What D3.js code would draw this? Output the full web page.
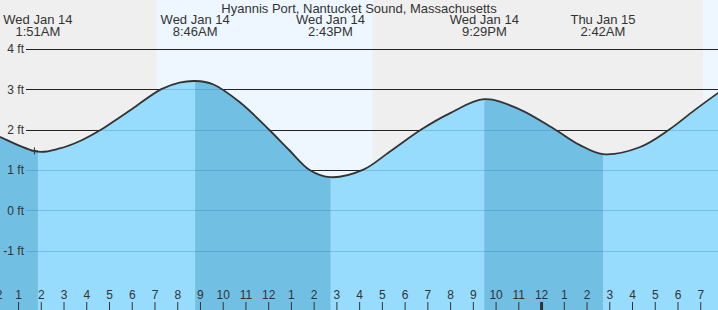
<!DOCTYPE html>
<html>
<head>
<meta charset="utf-8">
<script src="https://cdn.jsdelivr.net/npm/d3@7"></script>
<style>
html,body{margin:0;padding:0;background:#fff;}
svg{display:block;font-family:"Liberation Sans",Arial,sans-serif;}
</style>
</head>
<body>
<svg id="chart" width="718" height="310"></svg>
<script>
// ---- data (hours since midnight Wed Jan 14) ----
const title = "Hyannis Port, Nantucket Sound, Massachusetts";
const tideHours = [0, 0.17, 1.85, 2.81, 3.68, 4.64, 5.44, 6.02, 7.28, 8.08, 8.77, 9.55, 10.72, 12.01, 12.92, 13.80, 14.72, 16.14, 17.32, 18.71, 19.96, 21.48, 23.03, 24.59, 25.67, 26.70, 28.31, 29.62, 30.73, 31.8];
const tideFeet  = [1.86, 1.82, 1.45, 1.53, 1.71, 2.00, 2.30, 2.52, 3.00, 3.16, 3.20, 3.12, 2.68, 2.00, 1.48, 1.00, 0.82, 1.00, 1.45, 2.00, 2.40, 2.75, 2.50, 2.00, 1.62, 1.39, 1.56, 2.00, 2.48, 2.92];
const extremeHours = [1.85, 8.767, 14.717, 21.483, 26.7];
const extremeDates = ["Wed Jan 14", "Wed Jan 14", "Wed Jan 14", "Wed Jan 14", "Thu Jan 15"];
const extremeTimes = ["1:51AM", "8:46AM", "2:43PM", "9:29PM", "2:42AM"];
const fallStart = [-1, 8.767, 21.483];
const fallEnd   = [1.85, 14.717, 26.7];
const dayStart = [7.07, 31.1];
const dayEnd   = [16.57, 40];
const feetTicks = [4, 3, 2, 1, 0, -1];
const hourTicks = d3.range(0, 32);
const nowHour = 1.70, nowFeet = 1.47;

// ---- layout ----
const W = 718, H = 310;
const svg = d3.select("#chart");
const x = d3.scaleLinear().domain([0, 24]).range([-4.2, 541.56]);
const y = d3.scaleLinear().domain([0, 4]).range([210.3, 48.7]);

// backgrounds
svg.append("rect").attr("x", 0).attr("y", 0).attr("width", W).attr("height", H).attr("fill", "#efefef");
svg.selectAll(".day").data(dayStart).join("rect")
  .attr("x", d => x(d)).attr("y", 0)
  .attr("width", (d, i) => Math.min(x(dayEnd[i]), W) - x(d)).attr("height", H)
  .attr("fill", "#eef7ff");

// grid lines (beneath water)
svg.selectAll(".grid").data(feetTicks).join("line")
  .attr("x1", 26).attr("x2", W)
  .attr("y1", d => Math.round(y(d)) + 0.5).attr("y2", d => Math.round(y(d)) + 0.5)
  .attr("stroke", "#222").attr("stroke-width", 1);

const pts = tideHours.map((h, i) => [h, tideFeet[i]]);
const curve = d3.curveCatmullRom.alpha(0.5);
const area = d3.area().x(d => x(d[0])).y0(H).y1(d => y(d[1])).curve(curve);
const line = d3.line().x(d => x(d[0])).y(d => y(d[1])).curve(curve);

svg.append("clipPath").attr("id", "water").append("path").attr("d", area(pts));
svg.append("path").attr("d", area(pts)).attr("fill", "#97dcfd");
const wg = svg.append("g").attr("clip-path", "url(#water)");
wg.selectAll(".fall").data(fallStart).join("rect")
  .attr("x", d => x(d)).attr("y", 0)
  .attr("width", (d, i) => x(fallEnd[i]) - x(d)).attr("height", H)
  .attr("fill", "#72bfe4");
wg.selectAll(".grid2").data(feetTicks).join("line")
  .attr("x1", 26).attr("x2", W)
  .attr("y1", d => Math.round(y(d)) + 0.5).attr("y2", d => Math.round(y(d)) + 0.5)
  .attr("stroke", "rgba(40,120,170,0.3)").attr("stroke-width", 1);

svg.append("path").attr("d", line(pts)).attr("fill", "none")
  .attr("stroke", "#333").attr("stroke-width", 1.8);

// y labels
svg.selectAll(".ylab").data(feetTicks).join("text")
  .attr("x", 24).attr("y", d => y(d) + 4.5)
  .attr("text-anchor", "end").attr("font-size", 12).attr("fill", "#333")
  .text(d => d + " ft");

// bottom hour ticks
const fmtHour = h => { const v = h % 12; return v === 0 ? "12" : String(v); };
svg.selectAll(".tick").data(hourTicks).join("line")
  .attr("x1", d => x(d)).attr("x2", d => x(d))
  .attr("y1", 302).attr("y2", H)
  .attr("stroke", "#333").attr("stroke-width", d => d % 24 === 0 ? 3 : 1);
svg.selectAll(".hlab").data(hourTicks).join("text")
  .attr("x", d => x(d)).attr("y", 299)
  .attr("text-anchor", "middle").attr("font-size", 12).attr("fill", "#333")
  .text(fmtHour);

// now marker
svg.append("path")
  .attr("d", `M${x(nowHour) - 3.5},${y(nowFeet)}H${x(nowHour) + 3.5}M${x(nowHour)},${y(nowFeet) - 3.5}V${y(nowFeet) + 3.5}`)
  .attr("stroke", "#333").attr("stroke-width", 1);

// header labels
const hl = svg.selectAll(".hdr").data(extremeHours).join("g")
  .attr("transform", d => `translate(${x(d)},0)`);
hl.append("text").attr("y", 24).attr("text-anchor", "middle").attr("font-size", 13).attr("fill", "#333")
  .text((d, i) => extremeDates[i]);
hl.append("text").attr("y", 36).attr("text-anchor", "middle").attr("font-size", 13).attr("fill", "#333")
  .text((d, i) => extremeTimes[i]);

svg.append("text").attr("x", W / 2).attr("y", 12.5).attr("text-anchor", "middle")
  .attr("font-size", 13).attr("fill", "#333").text(title);
</script>
</body>
</html>
